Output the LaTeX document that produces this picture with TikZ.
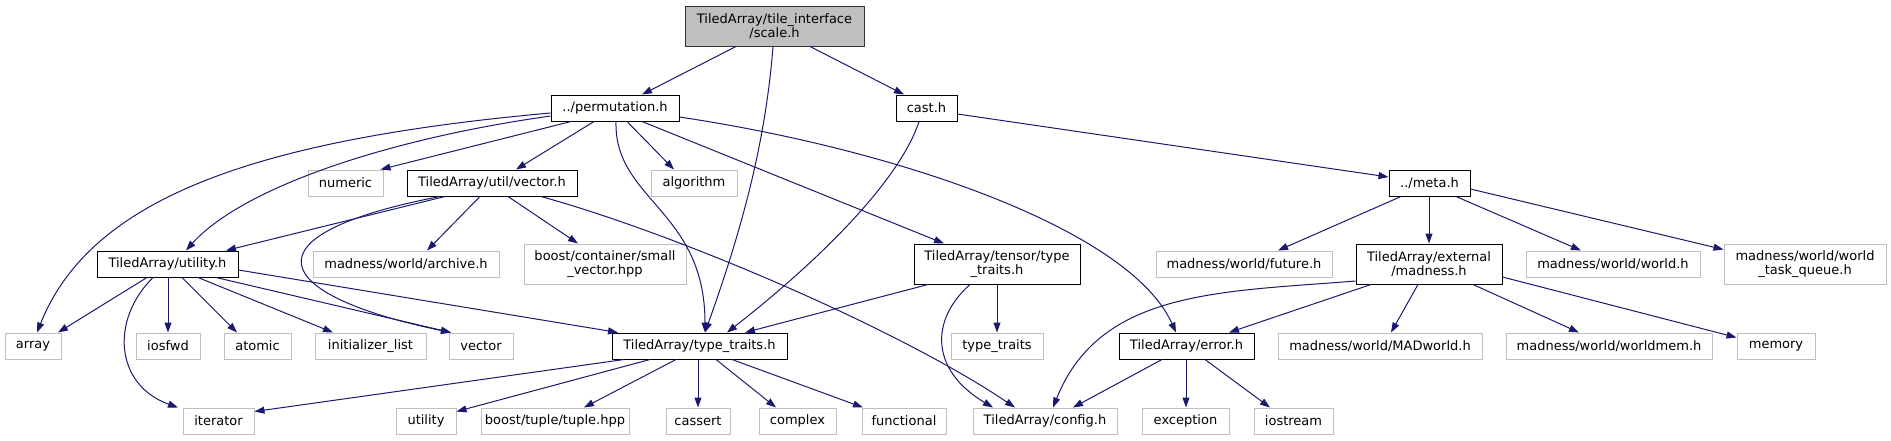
\documentclass[tikz,border=0pt]{standalone}
\usepackage{fontspec}
\setmainfont{DejaVu Sans}
\usetikzlibrary{arrows.meta}
\definecolor{edgec}{HTML}{191970}
\definecolor{grayb}{HTML}{BFBFBF}
\begin{document}
\begin{tikzpicture}[x=1pt,y=-1pt,
  base/.style={rectangle, inner sep=0pt, minimum height=26pt, font=\fontsize{13}{14}\selectfont, align=center, line width=1pt},
  doc/.style={base, draw=black},
  ext/.style={base, draw=grayb},
  two/.style={minimum height=40pt},
  root/.style={base, draw=black!80, fill=grayb, minimum height=40pt},
  dep/.style={draw=edgec, line width=1pt, -{Triangle[length=10pt,width=7pt]}}]
\useasboundingbox (0,0) rectangle (1891,440);
% row 0
\node[root, minimum width=179pt] (scale) at (774.5,26) {TiledArray/tile\_interface\\/scale.h};
% row 1
\node[doc, minimum width=128pt] (perm) at (615,108) {../permutation.h};
\node[doc, minimum width=61pt] (cast) at (926.5,108) {cast.h};
% row 2
\node[ext, minimum width=75pt] (numeric) at (345.5,183) {numeric};
\node[doc, minimum width=170pt] (vech) at (492,183) {TiledArray/util/vector.h};
\node[ext, minimum width=86pt] (algorithm) at (694,183) {algorithm};
\node[doc, minimum width=81pt] (meta) at (1429.5,183) {../meta.h};
% row 3
\node[doc, minimum width=141pt] (utilh) at (167.5,264) {TiledArray/utility.h};
\node[ext, minimum width=186pt] (archive) at (406,264) {madness/world/archive.h};
\node[ext, two, minimum width=162pt] (smallvec) at (605,264) {boost/container/small\\\_vector.hpp};
\node[doc, two, minimum width=166pt] (tensor) at (997,264) {TiledArray/tensor/type\\\_traits.h};
\node[ext, minimum width=176pt] (future) at (1244,264) {madness/world/future.h};
\node[doc, two, minimum width=146pt] (extmad) at (1429,264) {TiledArray/external\\/madness.h};
\node[ext, minimum width=174pt] (worldh) at (1613,264) {madness/world/world.h};
\node[ext, two, minimum width=162pt] (wtq) at (1805,264) {madness/world/world\\\_task\_queue.h};
% row 4
\node[ext, minimum width=56pt] (array) at (33,346) {array};
\node[ext, minimum width=64pt] (iosfwd) at (168,346) {iosfwd};
\node[ext, minimum width=67pt] (atomic) at (257.5,346) {atomic};
\node[ext, minimum width=111pt] (initl) at (370.5,346) {initializer\_list};
\node[ext, minimum width=64pt] (vector) at (481,346) {vector};
\node[doc, minimum width=175pt] (ttraits) at (699.5,346) {TiledArray/type\_traits.h};
\node[ext, minimum width=92pt] (typetraits) at (997,346) {type\_traits};
\node[doc, minimum width=135pt] (errorh) at (1186.5,346) {TiledArray/error.h};
\node[ext, minimum width=204pt] (madworld) at (1380,346) {madness/world/MADworld.h};
\node[ext, minimum width=206pt] (worldmem) at (1609,346) {madness/world/worldmem.h};
\node[ext, minimum width=78pt] (memory) at (1776,346) {memory};
% row 5
\node[ext, minimum width=71pt] (iterator) at (218.5,421) {iterator};
\node[ext, minimum width=60pt] (utility) at (426,421) {utility};
\node[ext, minimum width=148pt] (tuple) at (555,421) {boost/tuple/tuple.hpp};
\node[ext, minimum width=64pt] (cassert) at (698,421) {cassert};
\node[ext, minimum width=77pt] (complex) at (797.5,421) {complex};
\node[ext, minimum width=84pt] (functional) at (904,421) {functional};
\node[ext, minimum width=144pt] (config) at (1045,421) {TiledArray/config.h};
\node[ext, minimum width=87pt] (exception) at (1185.5,421) {exception};
\node[ext, minimum width=79pt] (iostream) at (1293.5,421) {iostream};
% edges from scale.h
\draw[dep] ([xshift=-38.5]scale.south) -- ([xshift=27]perm.north);
\draw[dep] ([xshift=-1.5]scale.south) .. controls (765,150) and (738,240) .. ([xshift=5.5]ttraits.north);
\draw[dep] ([xshift=35.5]scale.south) -- ([xshift=-22.5]cast.north);
% edges from permutation.h
\draw[dep] ([yshift=-5]perm.west) .. controls (250,140) and (90,200) .. ([xshift=4]array.north);
\draw[dep] ([yshift=-8]perm.west) .. controls (380,140) and (240,190) .. ([xshift=18.5]utilh.north);
\draw[dep] ([xshift=-44]perm.south) -- ([xshift=35]numeric.north);
\draw[dep] ([xshift=-21]perm.south) -- ([xshift=24]vech.north);
\draw[dep] ([xshift=1]perm.south) .. controls (614,200) and (705,210) .. ([xshift=5.5]ttraits.north);
\draw[dep] ([xshift=12]perm.south) -- ([xshift=-20]algorithm.north);
\draw[dep] ([xshift=27]perm.south) -- ([xshift=-53]tensor.north);
\draw[dep] ([yshift=-9]perm.east) .. controls (900,150) and (1130,230) .. ([xshift=-10.5]errorh.north);
% edges from cast.h
\draw[dep] ([xshift=-7.5]cast.south) .. controls (900,180) and (820,260) .. ([xshift=27.5]ttraits.north);
\draw[dep] ([yshift=-6]cast.east) -- ([yshift=6]meta.west);
% edges from util/vector.h
\draw[dep] ([xshift=-47]vech.south) -- ([xshift=58.5]utilh.north);
\draw[dep] ([xshift=-52]vech.south) .. controls (240,235) and (270,295) .. ([xshift=-30]vector.north);
\draw[dep] ([xshift=-12]vech.south) -- ([xshift=21]archive.north);
\draw[dep] ([xshift=16]vech.south) -- ([xshift=-27]smallvec.north);
\draw[dep] ([xshift=49]vech.south) .. controls (680,235) and (900,330) .. ([xshift=-30]config.north);
% edges from meta.h
\draw[dep] ([xshift=-28.5]meta.south) -- ([xshift=34]future.north);
\draw[dep] ([xshift=-0.5]meta.south) -- (extmad.north);
\draw[dep] ([xshift=26.5]meta.south) -- ([xshift=-32]worldh.north);
\draw[dep] ([yshift=-6]meta.east) -- ([yshift=-6]wtq.north west);
% edges from utility.h
\draw[dep] ([xshift=-20.5]utilh.south) -- ([xshift=25]array.north);
\draw[dep] ([xshift=-14.5]utilh.south) .. controls (110,320) and (115,385) .. ([xshift=-40.5]iterator.north);
\draw[dep] ([xshift=0.5]utilh.south) -- (iosfwd.north);
\draw[dep] ([xshift=14.5]utilh.south) -- ([xshift=-20.5]atomic.north);
\draw[dep] ([xshift=30.5]utilh.south) -- ([xshift=-37.5]initl.north);
\draw[dep] ([xshift=48.5]utilh.south) -- ([xshift=-30]vector.north);
\draw[dep] ([yshift=-6]utilh.east) -- ([xshift=-81.5]ttraits.north);
% edges from tensor/type_traits.h
\draw[dep] ([xshift=-69]tensor.south) -- ([xshift=45.5]ttraits.north);
\draw[dep] ([xshift=-27]tensor.south) .. controls (930,320) and (930,370) .. ([xshift=-52]config.north);
\draw[dep] (tensor.south) -- (typetraits.north);
% edges from external/madness.h
\draw[dep] ([yshift=-17]extmad.west) .. controls (1220,292) and (1100,290) .. ([xshift=8]config.north);
\draw[dep] ([xshift=-58]extmad.south) -- ([xshift=42.5]errorh.north);
\draw[dep] ([xshift=-11]extmad.south) -- ([xshift=11]madworld.north);
\draw[dep] ([xshift=44]extmad.south) -- ([xshift=-30]worldmem.north);
\draw[dep] ([yshift=-13]extmad.east) -- ([yshift=-5]memory.north west);
% edges from type_traits.h
\draw[dep] ([xshift=-75.5]ttraits.south) -- ([yshift=-4]iterator.north east);
\draw[dep] ([xshift=-49.5]ttraits.south) -- ([yshift=-4]utility.north east);
\draw[dep] ([xshift=-23.5]ttraits.south) -- ([xshift=29]tuple.north);
\draw[dep] ([xshift=-1.5]ttraits.south) -- (cassert.north);
\draw[dep] ([xshift=16.5]ttraits.south) -- ([xshift=-21.5]complex.north);
\draw[dep] ([xshift=32.5]ttraits.south) -- ([xshift=-41]functional.north);
% edges from error.h
\draw[dep] ([xshift=-24.5]errorh.south) -- ([xshift=28]config.north);
\draw[dep] ([xshift=-0.5]errorh.south) -- ([xshift=0.5]exception.north);
\draw[dep] ([xshift=18.5]errorh.south) -- ([xshift=-23.5]iostream.north);
\end{tikzpicture}
\end{document}
